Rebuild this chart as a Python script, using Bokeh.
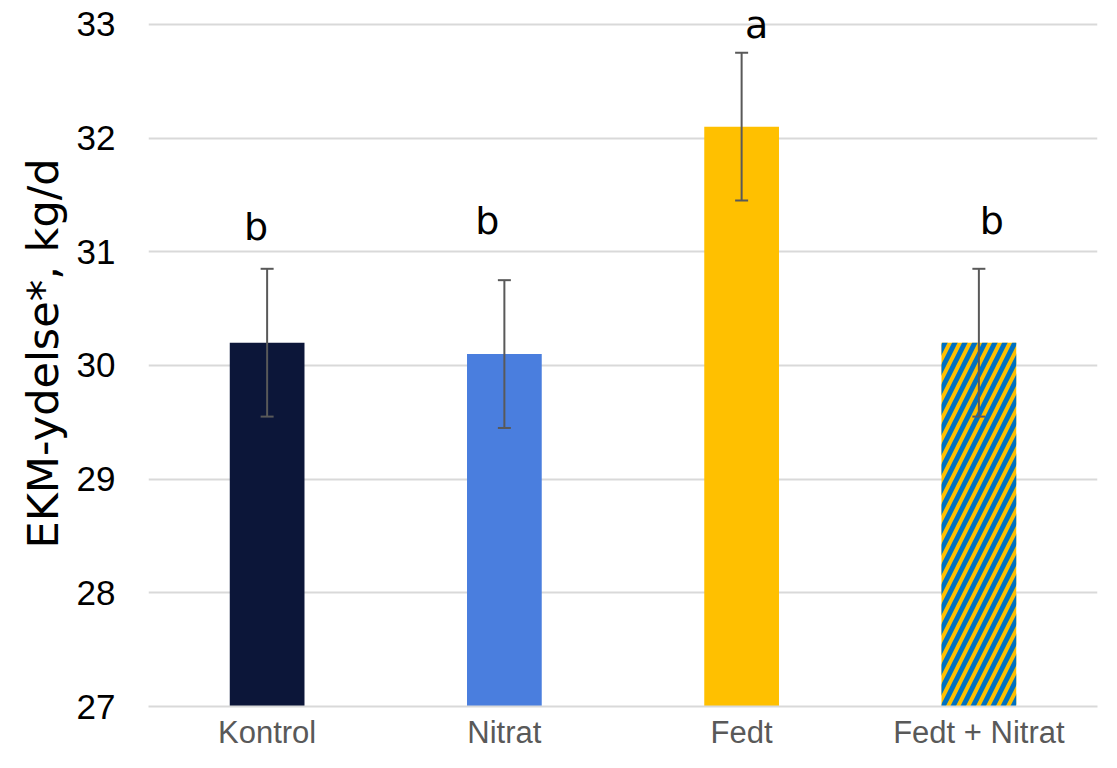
from bokeh.plotting import figure
from bokeh.models import ColumnDataSource, Range1d, Whisker, LabelSet, FixedTicker, TeeHead
from bokeh.core.properties import value
from bokeh.embed import file_html
from bokeh.resources import INLINE

categories = ["Kontrol", "Nitrat", "Fedt", "Fedt + Nitrat"]
values = [30.2, 30.1, 32.1, 30.2]
errors = [0.65, 0.65, 0.65, 0.65]
letters = ["b", "b", "a", "b"]
letter_y = [31.10, 31.16, 32.88, 31.16]
colors = ["#0C1639", "#4A7EDE", "#FFC000", "#FFC000"]
y_ticks = [27, 28, 29, 30, 31, 32, 33]

# layout-only pixel nudges for the significance letters
letter_dx = [-11, -17, 15, 13]

src = ColumnDataSource(dict(
    x=categories, top=values, color=colors,
    upper=[v + e for v, e in zip(values, errors)],
    lower=[v - e for v, e in zip(values, errors)],
    ly=letter_y, txt=letters, dx=letter_dx,
))

# a little headroom above 33 so the "a" label is not clipped
p = figure(x_range=categories, y_range=Range1d(27, 33.21), width=1101, height=752,
           output_backend="svg", toolbar_location=None,
           min_border_left=148, min_border_right=4, min_border_top=0, min_border_bottom=40)
p.outline_line_color = None
p.background_fill_color = "white"

n_plain = 3
src_plain = ColumnDataSource(dict(x=categories[:n_plain], top=values[:n_plain], color=colors[:n_plain]))
p.vbar(x="x", top="top", bottom=27, width=0.315, source=src_plain, fill_color="color", line_color=None)
src_h = ColumnDataSource(dict(x=categories[n_plain:], top=values[n_plain:]))
p.vbar(x="x", top="top", bottom=27, width=0.315, source=src_h, fill_color="#FFC000", line_color=None,
       hatch_pattern="right_diagonal_line", hatch_color="#0070C0", hatch_weight=5, hatch_scale=20)

head = dict(size=13, line_color="#595959", line_width=2)
w = Whisker(base="x", upper="upper", lower="lower", source=src, line_color="#595959", line_width=2,
            upper_head=TeeHead(**head), lower_head=TeeHead(**head), level="annotation")
p.add_layout(w)

labels = LabelSet(x="x", y="ly", text="txt", source=src, x_offset="dx",
                  text_align="center", text_baseline="alphabetic",
                  text_font=value("DejaVu Sans"), text_font_size="38px", text_color="#000000")
p.add_layout(labels)

p.yaxis.ticker = FixedTicker(ticks=y_ticks)
p.yaxis.axis_line_color = None
p.yaxis.major_tick_line_color = None
p.yaxis.major_tick_out = 0
p.yaxis.minor_tick_line_color = None
p.yaxis.major_label_text_font = "Liberation Sans"
p.yaxis.major_label_text_font_size = "35px"
p.yaxis.major_label_text_color = "#000000"
p.yaxis.major_label_standoff = 33
p.yaxis.axis_label = "EKM-ydelse*, kg/d"
p.yaxis.axis_label_text_font = "DejaVu Sans"
p.yaxis.axis_label_text_font_size = "43px"
p.yaxis.axis_label_text_font_style = "normal"
p.yaxis.axis_label_text_color = "#000000"
p.yaxis.axis_label_standoff = 6

p.xaxis.axis_line_color = "#D9D9D9"
p.xaxis.axis_line_width = 2
p.xaxis.major_tick_line_color = None
p.xaxis.major_tick_out = 0
p.xaxis.minor_tick_line_color = None
p.xaxis.major_label_text_font = "Liberation Sans"
p.xaxis.major_label_text_font_size = "31px"
p.xaxis.major_label_text_color = "#595959"
p.xaxis.major_label_standoff = 8

p.xgrid.grid_line_color = None
p.ygrid.grid_line_color = "#D9D9D9"
p.ygrid.grid_line_width = 2
p.x_range.range_padding = 0

open("out.html", "w").write(file_html(p, INLINE))
